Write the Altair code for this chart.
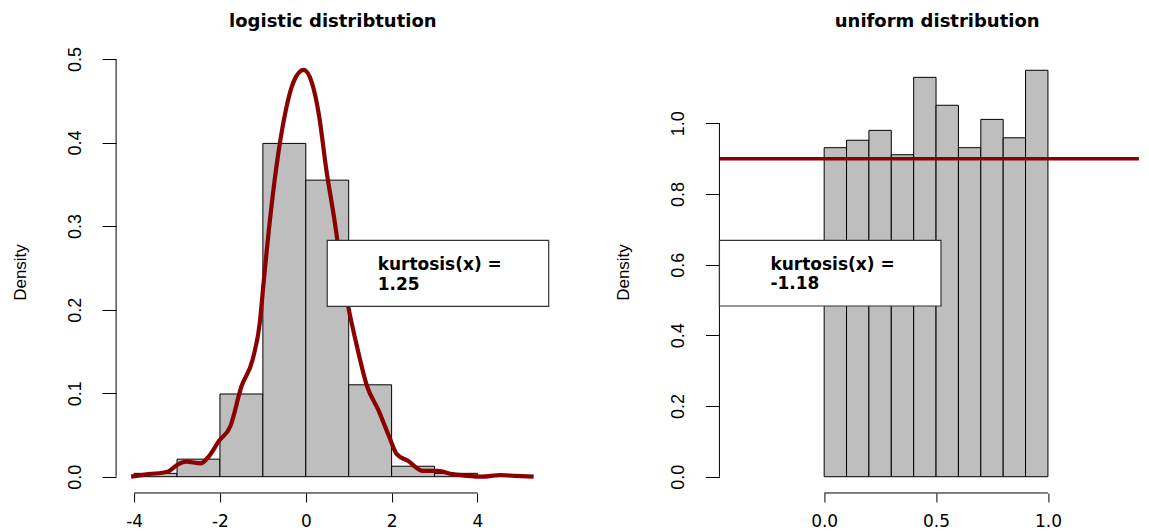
import altair as alt
import pandas as pd

# ---------------- data: logistic panel ----------------
logis_bin_start = [-4, -3, -2, -1, 0, 1, 2, 3, 4]
logis_bin_width = 1.0
logis_density = [0.004, 0.021, 0.099, 0.399, 0.355, 0.110, 0.0125, 0.004, 0.001]

kde_x = [-4.07, -3.66, -3.22, -2.97, -2.79, -2.45, -2.28, -2.02, -1.76, -1.50,
         -1.24, -1.07, -0.98, -0.81, -0.64, -0.46, -0.29, -0.05, 0.14, 0.31,
         0.48, 0.66, 0.83, 1.00, 1.17, 1.43, 1.69, 1.95, 2.12, 2.38,
         2.73, 3.07, 3.42, 3.76, 4.10, 4.54, 4.88, 5.31]
kde_y = [0.0, 0.003, 0.006, 0.015, 0.018, 0.016, 0.023, 0.043, 0.060, 0.108,
         0.140, 0.185, 0.234, 0.319, 0.387, 0.440, 0.472, 0.487, 0.472, 0.432,
         0.367, 0.310, 0.250, 0.201, 0.161, 0.108, 0.080, 0.047, 0.027, 0.019,
         0.007, 0.007, 0.003, 0.001, 0.0, 0.002, 0.001, 0.0]

logis_xticks = [-4, -2, 0, 2, 4]
logis_yticks = [0.0, 0.1, 0.2, 0.3, 0.4, 0.5]
logis_xdomain = [-4.42, 5.68]
logis_ydomain = [-0.0195, 0.506]
logis_kurt = "1.25"

# ---------------- data: uniform panel ----------------
unif_bin_start = [0.0, 0.1, 0.2, 0.3, 0.4, 0.5, 0.6, 0.7, 0.8, 0.9]
unif_bin_width = 0.1
unif_density = [0.931, 0.952, 0.980, 0.911, 1.130, 1.051, 0.931, 1.011, 0.959, 1.150]
unif_ref_line = [0.9]

unif_xticks = [0.0, 0.5, 1.0]
unif_yticks = [0.0, 0.2, 0.4, 0.6, 0.8, 1.0]
unif_xdomain = [-0.468, 1.4065]
unif_ydomain = [-0.046, 1.196]
unif_kurt = "-1.18"

# ---------------- styling ----------------
W_LEFT, W_RIGHT, H = 433.5, 419.5, 439
BAR_FILL = "#BEBEBE"
DARKRED = "#8B0000"
WIDE = "DejaVu Sans"
NARROW = "Liberation Sans"


def x_axis(ticks, fmt):
    return alt.Axis(values=ticks, format=fmt, domain=False, grid=False,
                    ticks=True, tickSize=9, tickColor="black", tickWidth=1,
                    labelFont=WIDE, labelFontSize=17, labelColor="black",
                    labelBaseline="middle", labelPadding=20, labelFlush=False,
                    labelOverlap=False,
                    labelExpr="datum.value < 0 ? '-' + replace(datum.label, /[^0-9.]/g, '') : datum.label",
                    title=None)


def y_axis(ticks):
    return alt.Axis(values=ticks, format=".1f", domain=False, grid=False,
                    ticks=True, tickSize=14, tickColor="black", tickWidth=1,
                    labelAngle=270, labelAlign="center", labelBaseline="middle",
                    labelPadding=27, labelFont=NARROW, labelFontSize=18,
                    labelColor="black", labelFlush=False, labelOverlap=False,
                    title="Density", titleFont=NARROW, titleFontSize=17,
                    titleFontWeight="normal", titleColor="black", titleAngle=270,
                    titleAlign="center", titleBaseline="middle",
                    titleX=-96, titleY=218)


def panel(width, bin_start, bin_width, dens, xticks, yticks, xdom, ydom, xfmt, title,
          title_dx, title_dy, box, text_pos, kurt, extra):
    bars = pd.DataFrame({"x": bin_start,
                         "x2": [b + bin_width for b in bin_start],
                         "y": dens,
                         "zero": [0.0] * len(dens)})
    xs = alt.Scale(domain=xdom, nice=False, zero=False)
    ys = alt.Scale(domain=ydom, nice=False, zero=False)

    base = alt.Chart(bars).mark_rect(fill=BAR_FILL, stroke="black", strokeWidth=1).encode(
        x=alt.X("x:Q", scale=xs, axis=x_axis(xticks, xfmt)),
        x2="x2:Q",
        y=alt.Y("y:Q", scale=ys, axis=y_axis(yticks)),
        y2="zero:Q",
    )

    xaxis_line = alt.Chart(pd.DataFrame({"a": [min(xticks)], "b": [max(xticks)],
                                         "y": [ydom[0]]})).mark_rule(
        color="black", strokeWidth=1).encode(x="a:Q", x2="b:Q", y="y:Q")
    yaxis_line = alt.Chart(pd.DataFrame({"a": [min(yticks)], "b": [max(yticks)],
                                         "x": [xdom[0]]})).mark_rule(
        color="black", strokeWidth=1).encode(y="a:Q", y2="b:Q", x="x:Q")

    boxdf = pd.DataFrame({"x": [box[0]], "x2": [box[1]], "y": [box[2]], "y2": [box[3]]})
    legend_box = alt.Chart(boxdf).mark_rect(fill="white", stroke="#333333",
                                            strokeWidth=1.2).encode(
        x="x:Q", x2="x2:Q", y="y:Q", y2="y2:Q")

    txt = pd.DataFrame({"x": [text_pos[0], text_pos[0]],
                        "y": [text_pos[1], text_pos[2]],
                        "t": ["kurtosis(x) =", kurt]})
    legend_text = alt.Chart(txt).mark_text(align="left", baseline="alphabetic",
                                           font=WIDE, fontWeight="bold",
                                           fontSize=17, color="black").encode(
        x="x:Q", y="y:Q", text="t:N")

    layers = [base] + extra + [xaxis_line, yaxis_line, legend_box, legend_text]
    return alt.layer(*layers).properties(
        width=width, height=H,
        title=alt.TitleParams(title, font=WIDE, fontWeight="bold", fontSize=18,
                              color="black", anchor="middle", offset=1,
                              dx=title_dx, dy=title_dy, baseline="alphabetic"),
    )


kde_df = pd.DataFrame({"x": kde_x, "y": kde_y})
kde_line = alt.Chart(kde_df).mark_line(color=DARKRED, strokeWidth=4.2,
                                        interpolate="monotone").encode(
    x="x:Q", y="y:Q")

ref_df = pd.DataFrame({"y": unif_ref_line})
ref_rule = alt.Chart(ref_df).mark_rule(color=DARKRED, strokeWidth=3.5).encode(y="y:Q")

left = panel(W_LEFT, logis_bin_start, logis_bin_width, logis_density, logis_xticks,
             logis_yticks, logis_xdomain, logis_ydomain, "d", "logistic distribtution",
             0, -1,
             box=(0.50, 5.66, 0.204, 0.283), text_pos=(1.674, 0.248, 0.224),
             kurt=logis_kurt, extra=[kde_line])

right = panel(W_RIGHT, unif_bin_start, unif_bin_width, unif_density, unif_xticks,
              unif_yticks, unif_xdomain, unif_ydomain, ".1f", "uniform distribution",
              8, -7.6,
              box=(unif_xdomain[0], 0.522, 0.483, 0.669), text_pos=(-0.240, 0.586, 0.530),
              kurt=unif_kurt, extra=[ref_rule])

chart = alt.hconcat(left, right, spacing=64.4).properties(
    padding={"left": 3.1, "top": 4, "right": 0, "bottom": 0},
    background="white",
).configure_view(stroke=None)

chart.save("out.html", embed_options={"renderer": "svg", "actions": False})
